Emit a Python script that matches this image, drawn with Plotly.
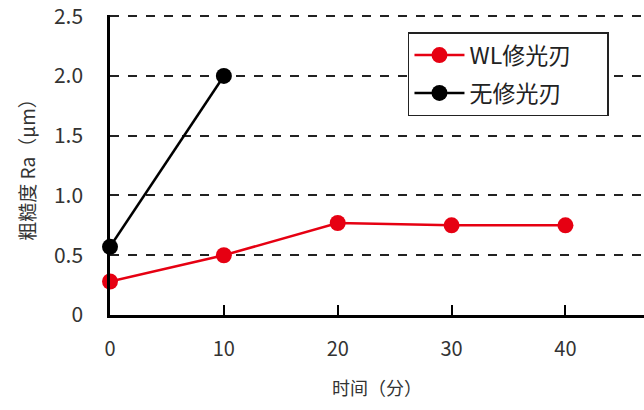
import plotly.graph_objects as go

time_min = [0, 10, 20, 30, 40]
wl_ra = [0.28, 0.50, 0.77, 0.75, 0.75]
time_plain = [0, 10]
plain_ra = [0.57, 2.00]

y_ticks = [0, 0.5, 1.0, 1.5, 2.0, 2.5]
y_ticktext = ["0", "0.5", "1.0", "1.5", "2.0", "2.5"]
x_ticks = [0, 10, 20, 30, 40]
series_names = ["WL修光刃", "无修光刃"]

FONT = "Noto Sans CJK SC"
RED = "#e60012"
PAD = "\u00a0" * 6

fig = go.Figure()
fig.add_trace(go.Scatter(
    x=time_min, y=wl_ra, name=series_names[0] + PAD, mode="lines+markers",
    line=dict(color=RED, width=2.5),
    marker=dict(color=RED, size=16),
    cliponaxis=False, legendgroup="a",
))
fig.add_trace(go.Scatter(
    x=time_plain, y=plain_ra, name=series_names[1] + PAD, mode="lines+markers",
    line=dict(color="black", width=2.5),
    marker=dict(color="black", size=16),
    cliponaxis=False, legendgroup="b",
))

fig.update_layout(
    width=644, height=410,
    margin=dict(l=110, r=0, t=15, b=95),
    paper_bgcolor="white", plot_bgcolor="white",
    font=dict(family=FONT, size=19, color="#333333"),
    showlegend=True,
    legend=dict(
        x=0.558, y=0.943, xanchor="left", yanchor="top",
        bgcolor="white", bordercolor="#222222", borderwidth=1.5,
        font=dict(family=FONT, size=23, color="#222222"),
        tracegroupgap=5, itemwidth=50,
    ),
    xaxis=dict(
        range=[0, 46.9], tickvals=x_ticks, automargin=False,
        showline=True, linecolor="black", linewidth=2.5,
        ticks="inside", ticklen=10, tickwidth=1.5, tickcolor="black",
        showgrid=False, zeroline=False,
        tickfont=dict(size=20),
        title=dict(text="时间（分）", standoff=22, font=dict(size=18)),
        ticklabelstandoff=14,
    ),
    yaxis=dict(
        range=[0, 2.51], tickvals=y_ticks, ticktext=y_ticktext, automargin=False,
        showline=True, linecolor="black", linewidth=2.5,
        ticks="", showgrid=True, gridcolor="#222222", gridwidth=1.5,
        griddash="dash", zeroline=False,
        tickfont=dict(size=21), ticklabeloverflow="allow",
        title=dict(text="粗糙度 Ra（μm）", standoff=14, font=dict(size=19)),
        ticklabelstandoff=20,
    ),
)

fig.write_html("out.html", config={"displayModeBar": False},
               post_script="document.body.style.margin='0';")
